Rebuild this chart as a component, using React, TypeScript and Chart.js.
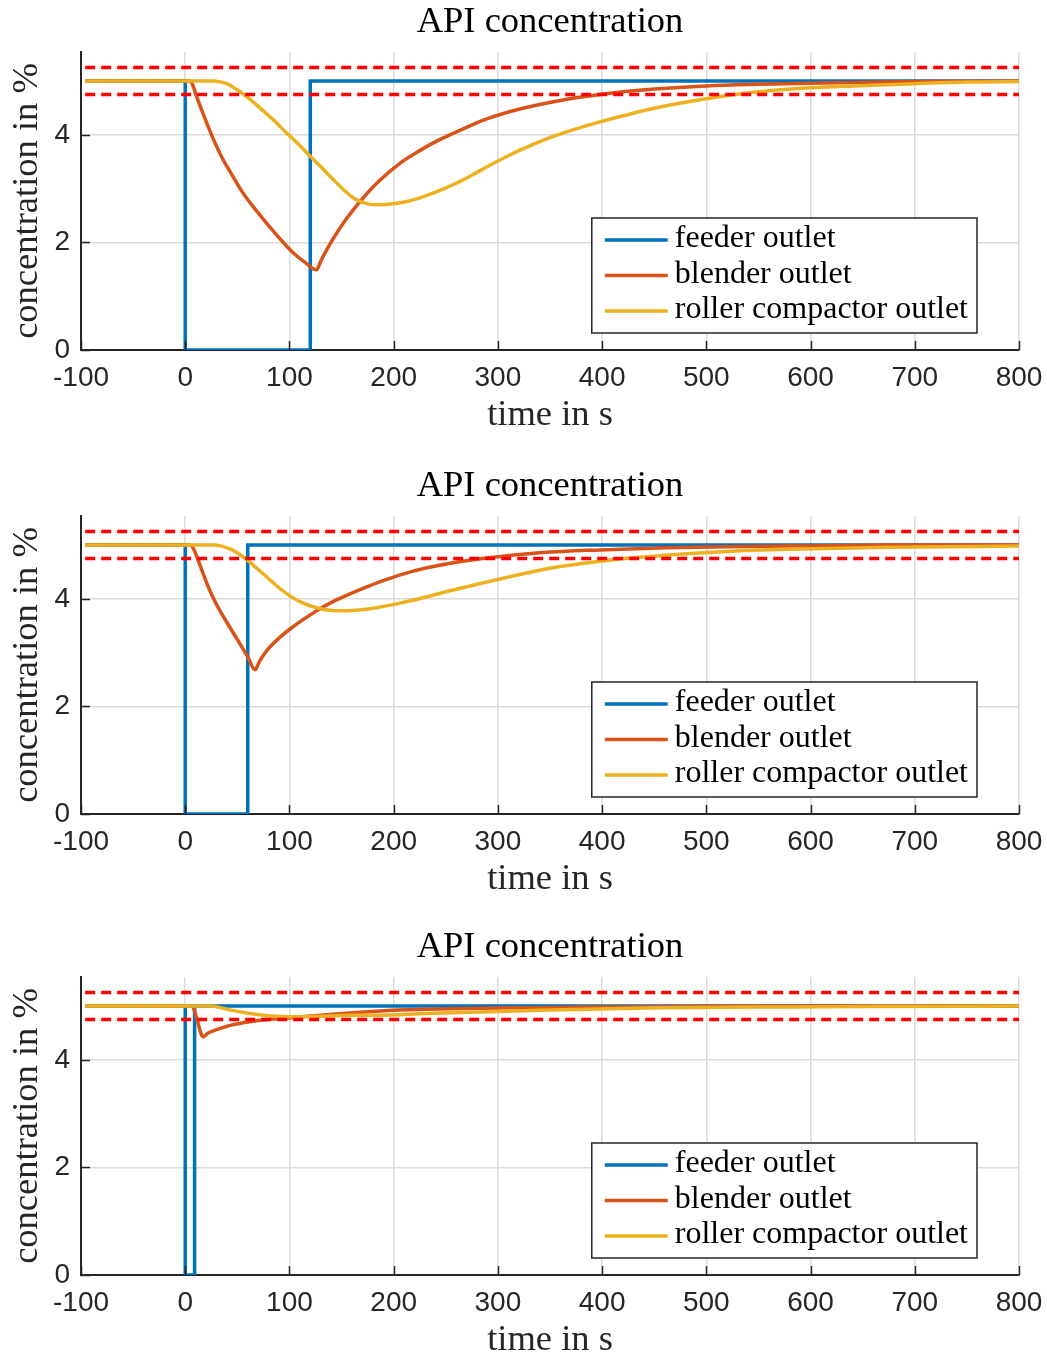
import { useEffect, useRef } from 'react';
import { Chart, registerables } from 'chart.js';

Chart.register(...registerables);

type Pt = [number, number];

// Labels and styling constants
const TITLE = 'API concentration';
const X_LABEL = 'time in s';
const Y_LABEL = 'concentration in %';
const SERIES_NAMES = ['feeder outlet', 'blender outlet', 'roller compactor outlet'];
const SERIES_COLORS = ['#0072BD', '#D95319', '#EDB120'];
const LIMIT_COLOR = '#FF0000';

// Axis ranges
const TIME_MIN = -100;
const TIME_MAX = 800;
const TIME_STEP = 100;
const CONC_MIN = 0;
const CONC_MAX = 5.54;
const CONC_STEP = 2;

// Tolerance band around the 5 % set point
const BAND_UPPER = 5.25;
const BAND_LOWER = 4.75;
const BAND_SPAN: number[] = [-96, 800];

// Panel 1: 120 s feeder outage
const feeder1: Pt[] = [[-96, 5], [0, 5], [0, 0], [120, 0], [120, 5], [800, 5]];
const blender1: Pt[] = [
  [-96, 5], [5, 5], [6.5, 4.96], [11, 4.71], [19, 4.3], [27, 3.92], [36, 3.55], [46, 3.22],
  [55, 2.93], [65, 2.67], [75, 2.43], [85, 2.2], [95, 1.98], [104, 1.8], [115, 1.63],
  [126, 1.49], [130, 1.65], [136, 1.87], [142, 2.07], [151, 2.34], [161, 2.6], [174, 2.9],
  [187, 3.16], [206, 3.47], [222, 3.67], [238, 3.85], [254, 4.0], [270, 4.14], [290, 4.3],
  [321, 4.48], [360, 4.64], [398, 4.75], [450, 4.85], [500, 4.91], [550, 4.94], [600, 4.96],
  [700, 4.99], [800, 5],
];
const roller1: Pt[] = [
  [-96, 5], [27, 5], [33, 4.985], [40, 4.95], [48, 4.86], [59, 4.71], [70, 4.53], [85, 4.27],
  [97, 4.04], [110, 3.8], [120, 3.6], [132, 3.37], [142, 3.17], [152, 2.98], [161, 2.83],
  [172, 2.73], [184, 2.7], [200, 2.72], [215, 2.77], [230, 2.86], [245, 2.97], [260, 3.1],
  [275, 3.25], [290, 3.41], [312, 3.63], [335, 3.83], [353, 3.97], [375, 4.11], [398, 4.24],
  [449, 4.49], [500, 4.67], [545, 4.79], [596, 4.87], [641, 4.91], [699, 4.95], [750, 4.98],
  [800, 4.99],
];

// Panel 2: 60 s feeder outage
const feeder2: Pt[] = [[-96, 5], [0, 5], [0, 0], [60, 0], [60, 5], [800, 5]];
const blender2: Pt[] = [
  [-96, 5], [5, 5], [8, 4.93], [12, 4.74], [17, 4.48], [22, 4.23], [27, 4.01], [33, 3.79],
  [40, 3.56], [46, 3.37], [53, 3.15], [60, 2.92], [67, 2.68], [71, 2.83], [76, 2.98],
  [81, 3.1], [90, 3.27], [100, 3.43], [112, 3.6], [127, 3.79], [140, 3.93], [152, 4.04],
  [170, 4.19], [190, 4.34], [218, 4.51], [238, 4.6], [260, 4.68], [285, 4.75], [343, 4.86],
  [398, 4.91], [461, 4.95], [520, 4.97], [578, 4.98], [676, 5.0], [800, 5],
];
const roller2: Pt[] = [
  [-96, 5], [27, 5], [35, 4.98], [45, 4.91], [52, 4.83], [59, 4.73], [68, 4.58], [78, 4.41],
  [89, 4.22], [100, 4.06], [112, 3.93], [127, 3.83], [145, 3.78], [164, 3.79], [185, 3.84],
  [206, 3.92], [230, 4.03], [254, 4.15], [280, 4.27], [302, 4.37], [332, 4.5], [350, 4.57],
  [394, 4.69], [422, 4.75], [461, 4.81], [520, 4.88], [578, 4.92], [676, 4.96], [800, 4.98],
];

// Panel 3: 9 s feeder outage
const feeder3: Pt[] = [[-96, 5], [0, 5], [0, 0], [9, 0], [9, 5], [800, 5]];
const blender3: Pt[] = [
  [-96, 5], [6, 5], [8, 4.96], [12, 4.7], [17, 4.43], [22, 4.5], [30, 4.56], [45, 4.65],
  [62, 4.71], [80, 4.75], [100, 4.78], [130, 4.83], [158, 4.87], [187, 4.91], [230, 4.94],
  [283, 4.96], [340, 4.97], [385, 4.98], [470, 4.99], [550, 5], [800, 5],
];
const roller3: Pt[] = [
  [-96, 5], [25, 5], [32, 4.98], [45, 4.92], [62, 4.86], [80, 4.82], [100, 4.8], [130, 4.81],
  [158, 4.83], [187, 4.83], [230, 4.86], [283, 4.89], [340, 4.92], [385, 4.94], [455, 4.97],
  [550, 4.98], [650, 4.99], [800, 5],
];

const PANELS: Pt[][][] = [
  [feeder1, blender1, roller1],
  [feeder2, blender2, roller2],
  [feeder3, blender3, roller3],
];
const PANEL_TOPS = [0, 464, 925];
const PANEL_W = 1047;
const PANEL_H = 431;

const SERIF = "'Liberation Serif', 'Times New Roman', serif";
const SANS = "'Liberation Sans', Arial, sans-serif";
const INK = '#262626';
const LINE_W = 3.5;

const toXY = (pts: Pt[]) => pts.map(([x, y]) => ({ x, y }));

// Title, axis labels, inward ticks and the boxed legend
const panelDecor = {
  id: 'panelDecor',
  afterDraw(chart: any) {
    const { ctx, chartArea: a, scales } = chart;
    const xs = scales.x;
    const ys = scales.y;
    ctx.save();

    ctx.strokeStyle = INK;
    ctx.lineWidth = 1.5;
    ctx.beginPath();
    xs.ticks.forEach((t: any) => {
      const px = Math.round(xs.getPixelForValue(t.value)) + 0.5;
      ctx.moveTo(px, a.bottom);
      ctx.lineTo(px, a.bottom - 9);
    });
    ys.ticks.forEach((t: any) => {
      const py = Math.round(ys.getPixelForValue(t.value)) + 0.5;
      ctx.moveTo(a.left, py);
      ctx.lineTo(a.left + 9, py);
    });
    ctx.stroke();

    const cx = (a.left + a.right) / 2;
    ctx.fillStyle = '#000';
    ctx.textBaseline = 'alphabetic';
    ctx.textAlign = 'center';
    ctx.font = `36.5px ${SERIF}`;
    ctx.fillText(TITLE, cx, 32);

    ctx.fillStyle = INK;
    ctx.fillText(X_LABEL, cx, 425);

    ctx.save();
    ctx.translate(37, (a.top + a.bottom) / 2);
    ctx.rotate(-Math.PI / 2);
    ctx.fillText(Y_LABEL, 0, 0);
    ctx.restore();

    // legend box in the lower right of the plot area
    ctx.font = `32px ${SERIF}`;
    const textW = Math.max(...SERIES_NAMES.map((n) => ctx.measureText(n).width));
    const boxW = 83 + textW + 9;
    const boxH = 115;
    const right = a.right - 42;
    const bottom = a.bottom - 17;
    const left = right - boxW;
    const top = bottom - boxH;
    ctx.fillStyle = '#fff';
    ctx.fillRect(left, top, boxW, boxH);
    ctx.strokeStyle = INK;
    ctx.lineWidth = 1.5;
    ctx.strokeRect(left, top, boxW, boxH);
    const rows = [22, 57.5, 93];
    SERIES_NAMES.forEach((name, i) => {
      const y = top + rows[i];
      ctx.strokeStyle = SERIES_COLORS[i];
      ctx.lineWidth = LINE_W;
      ctx.beginPath();
      ctx.moveTo(left + 13, y);
      ctx.lineTo(left + 76, y);
      ctx.stroke();
      ctx.fillStyle = '#000';
      ctx.textAlign = 'left';
      ctx.fillText(name, left + 83, y + 7);
    });

    ctx.restore();
  },
};

function Panel({ series, top }: { series: Pt[][]; top: number }) {
  const ref = useRef<HTMLCanvasElement | null>(null);

  useEffect(() => {
    if (!ref.current) return;
    const [feeder, blender, roller] = series;
    const limitLine = (label: string, level: number) => ({
      label,
      data: BAND_SPAN.map((t) => ({ x: t, y: level })),
      borderColor: LIMIT_COLOR,
      borderWidth: 3.5,
      borderDash: [10, 6],
      pointRadius: 0,
      tension: 0,
      order: 0,
    });
    const chart = new Chart(ref.current, {
      type: 'line',
      data: {
        datasets: [
          limitLine('upper limit', BAND_UPPER),
          limitLine('lower limit', BAND_LOWER),
          {
            label: SERIES_NAMES[2],
            data: toXY(roller),
            borderColor: SERIES_COLORS[2],
            borderWidth: LINE_W,
            pointRadius: 0,
            cubicInterpolationMode: 'monotone',
            order: 1,
          },
          {
            label: SERIES_NAMES[1],
            data: toXY(blender),
            borderColor: SERIES_COLORS[1],
            borderWidth: LINE_W,
            pointRadius: 0,
            cubicInterpolationMode: 'monotone',
            order: 2,
          },
          {
            label: SERIES_NAMES[0],
            data: toXY(feeder),
            borderColor: SERIES_COLORS[0],
            borderWidth: LINE_W,
            pointRadius: 0,
            tension: 0,
            borderJoinStyle: 'miter',
            order: 3,
          },
        ],
      } as any,
      options: {
        animation: false,
        responsive: false,
        maintainAspectRatio: false,
        events: [],
        layout: { padding: { top: 52, right: 28, left: 0, bottom: 0 } },
        plugins: {
          legend: { display: false },
          tooltip: { enabled: false },
          title: { display: false },
        },
        scales: {
          x: {
            type: 'linear',
            min: TIME_MIN,
            max: TIME_MAX,
            ticks: {
              stepSize: TIME_STEP,
              includeBounds: false,
              autoSkip: false,
              maxRotation: 0,
              padding: 11,
              color: INK,
              font: { family: SANS, size: 28, lineHeight: 1.2 },
            },
            grid: { color: '#dcdcdc', lineWidth: 1.5, drawTicks: false },
            border: { color: INK, width: 2 },
            afterFit: (s: any) => {
              s.height = PANEL_H - 350;
              s.paddingLeft = 0;
              s.paddingRight = 0;
            },
          },
          y: {
            type: 'linear',
            min: CONC_MIN,
            max: CONC_MAX,
            ticks: {
              stepSize: CONC_STEP,
              includeBounds: false,
              padding: 11,
              color: INK,
              font: { family: SANS, size: 28, lineHeight: 1.2 },
            },
            grid: { color: '#dcdcdc', lineWidth: 1.5, drawTicks: false },
            border: { color: INK, width: 2 },
            afterFit: (s: any) => {
              s.width = 81;
            },
          },
        },
      } as any,
      plugins: [panelDecor],
    });
    return () => chart.destroy();
  }, [series]);

  return (
    <canvas
      ref={ref}
      width={PANEL_W}
      height={PANEL_H}
      style={{ position: 'absolute', left: 0, top, width: PANEL_W, height: PANEL_H, display: 'block' }}
    />
  );
}

export default function App() {
  return (
    <div
      style={{
        position: 'absolute',
        left: 0,
        top: 0,
        width: PANEL_W,
        height: 1356,
        overflow: 'hidden',
        background: '#fff',
      }}
    >
      {PANELS.map((p, i) => (
        <Panel key={i} series={p} top={PANEL_TOPS[i]} />
      ))}
    </div>
  );
}
